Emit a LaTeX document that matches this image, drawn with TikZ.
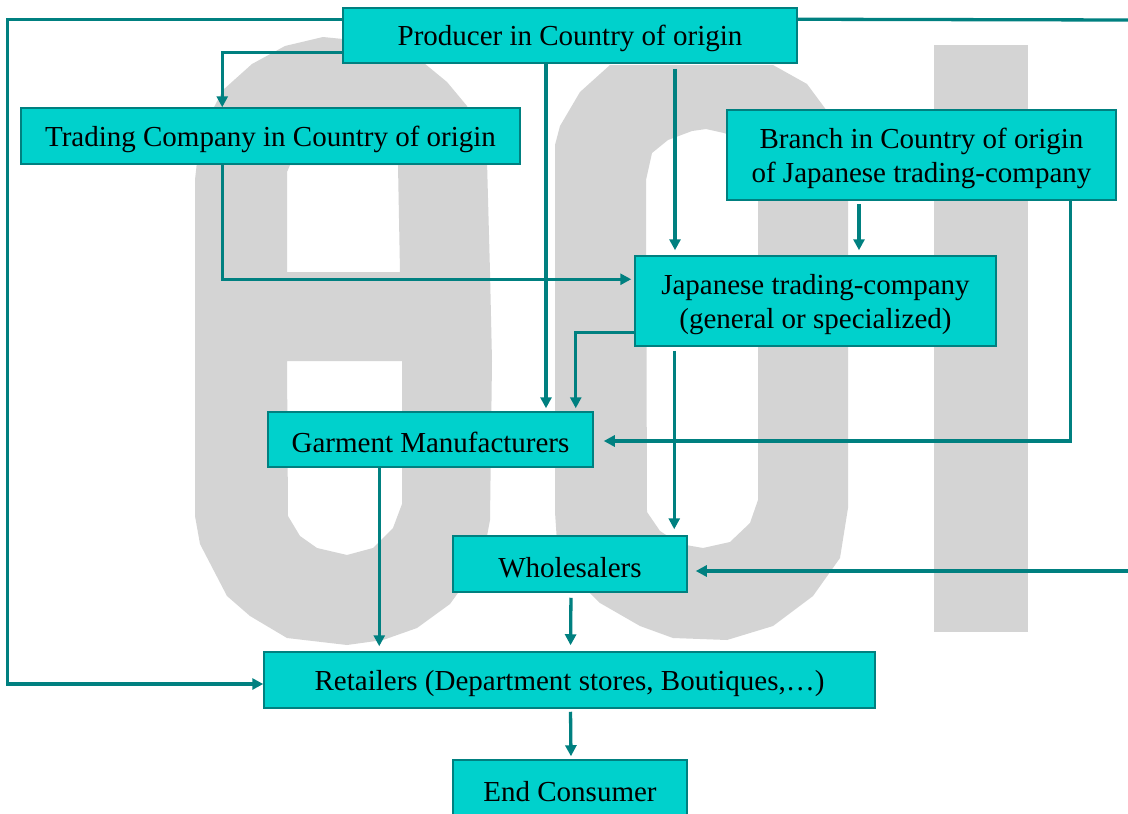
\documentclass[tikz,border=0pt]{standalone}
\usepackage{fontspec}
\setmainfont{Liberation Serif}
\usetikzlibrary{arrows.meta}
\definecolor{wm}{RGB}{212,212,212}
\definecolor{boxfill}{RGB}{0,209,204}
\definecolor{tealline}{RGB}{0,128,128}
\newcommand{\topstrut}{\rule{0pt}{27pt}}
\begin{document}
\begin{tikzpicture}[x=1pt,y=-1pt,
  box/.style={draw=tealline, line width=1.5pt, fill=boxfill, inner sep=0pt, align=center,
              font=\fontsize{29pt}{34pt}\selectfont},
  conn/.style={draw=tealline, line width=3.3pt},
  arr/.style={conn, -{Triangle[length=11pt,width=11pt]}}]
\useasboundingbox (0,0) rectangle (1128,814);
\clip (0,0) rectangle (1128,814);
\fill[white] (0,0) rectangle (1128,814);
% watermark "eoi"
\fill[wm, even odd rule]
  (285,46) -- (323,37) -- (373,42) -- (413,54) -- (447,82) -- (467,106) -- (487,161)
  -- (490,272) -- (492,361) -- (490,520) -- (487,536) -- (473,572) -- (450,604)
  -- (417,628) -- (383,640) -- (347,645) -- (287,638) -- (250,616) -- (227,596)
  -- (200,544) -- (195,516) -- (195,180) -- (200,134) -- (223,90) -- (252,64) -- cycle
  (290,165) -- (398,165) -- (400,272) -- (287,272) -- (287,172) -- cycle
  (287,361) -- (402,361) -- (402,504) -- (393,528) -- (373,548) -- (347,555)
  -- (317,548) -- (300,536) -- (288,516) -- cycle;
\fill[wm, even odd rule]
  (610,65) -- (773,65) -- (807,84) -- (827,111) -- (843,157) -- (848,200) -- (848,508)
  -- (840,558) -- (813,596) -- (773,626) -- (727,640) -- (673,638) -- (640,626)
  -- (600,603) -- (570,573) -- (557,542) -- (555,512) -- (555,145) -- (560,126)
  -- (580,92) -- cycle
  (646,180) -- (652,153) -- (668,140) -- (692,131) -- (706,129) -- (724,133)
  -- (745,140) -- (758,160) -- (758,500) -- (750,523) -- (730,542) -- (703,548)
  -- (680,544) -- (660,531) -- (647,512) -- cycle;
\fill[wm] (934,45) rectangle (1028,632);
% boxes
\node[box, minimum width=454pt, minimum height=55pt] (prod) at (570,35.5) {\topstrut Producer in Country of origin};
\node[box, minimum width=499pt, minimum height=56pt] (trade) at (270.5,136) {\topstrut Trading Company in Country of origin};
\node[box, minimum width=389pt, minimum height=90pt] (branch) at (921.5,155) {\topstrut Branch in Country of origin\\of Japanese trading-company};
\node[box, minimum width=361pt, minimum height=90pt] (jtc) at (815.5,301) {\topstrut Japanese trading-company\\(general or specialized)};
\node[box, minimum width=325pt, minimum height=55pt] (garm) at (430.5,439.5) {\topstrut Garment Manufacturers};
\node[box, minimum width=234pt, minimum height=56pt] (whole) at (570,564) {\topstrut Wholesalers};
\node[box, minimum width=611pt, minimum height=56pt] (ret) at (569.5,680) {\topstrut Retailers (Department stores, Boutiques,…)};
\node[box, minimum width=234pt, minimum height=56pt] (endc) at (570,788) {\topstrut End Consumer};
\coordinate (edgeA) at (1128,20);
\coordinate (edgeB) at (1128,571);
% connectors
\draw[arr] ([yshift=-12pt]prod.north west) -- ++(-335,0) |- ([yshift=-4pt]ret.west);
\draw[arr] ([yshift=-45pt]prod.north west) -| ([xshift=202pt]trade.north west);
\draw[conn] ([yshift=-12pt]prod.north east) -- (edgeA);
\draw[arr, shorten >=8pt] (edgeB) -- ([yshift=-7pt]whole.east);
\draw[arr, shorten >=3pt] ([xshift=-24pt]prod.south) -- ([xshift=-24pt]prod.south |- garm.north);
\draw[arr, shorten <=5pt, shorten >=5pt] ([xshift=105pt]prod.south) -- ([xshift=105pt]prod.south |- jtc.north);
\draw[arr, shorten >=3pt] ([xshift=202pt]trade.south west) |- ([yshift=-24pt]jtc.north west);
\draw[arr, shorten <=3pt, shorten >=5pt] ([xshift=-62.5pt]branch.south) -- ([xshift=-62.5pt]branch.south |- jtc.north);
\draw[arr, shorten >=10pt] ([xshift=-46pt]branch.south east) |- ([yshift=-1.5pt]garm.east);
\draw[arr, shorten >=3pt] ([yshift=14pt]jtc.south west) -| ([xshift=-18pt]garm.north east);
\draw[arr, shorten <=4pt, shorten >=6pt] ([xshift=40pt]jtc.south west) -- ([xshift=40pt]jtc.south west |- whole.north);
\draw[arr, shorten >=5pt] ([xshift=112pt]garm.south west) -- ([xshift=112pt]garm.south west |- ret.north);
\draw[arr, shorten <=5pt, shorten >=6pt] ([xshift=1pt]whole.south) -- ([xshift=1pt]ret.north);
\draw[arr, shorten <=3pt, shorten >=3pt] ([xshift=1pt]ret.south) -- ([xshift=1pt]endc.north);
\end{tikzpicture}
\end{document}
